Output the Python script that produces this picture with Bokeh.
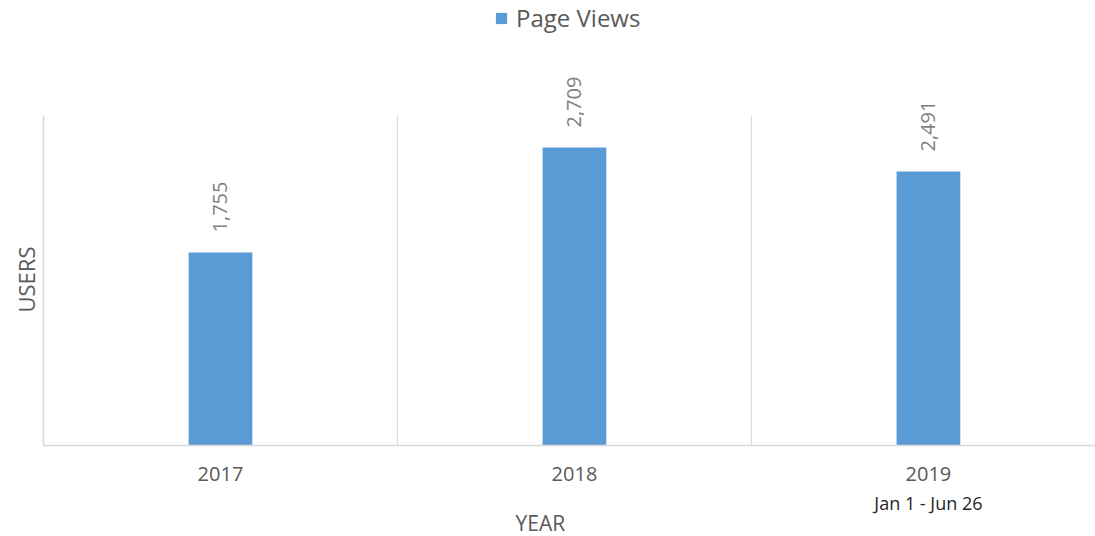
from bokeh.plotting import figure
from bokeh.models import (ColumnDataSource, Range1d, FixedTicker, LabelSet,
                          Legend, LegendItem, LinearAxis, Title)
from bokeh.core.properties import value
from bokeh.embed import file_html
from bokeh.resources import INLINE
from math import pi

years = ["2017", "2018", "2019"]
page_views = [1755, 2709, 2491]
value_labels = [f"{v:,}" for v in page_views]
subtitle_year = "2019"
subtitle_text = "Jan 1 - Jun 26"
series_name = "Page Views"
x_title = "YEAR"
y_title = "USERS"
axis_max = 3000

FONT = "Open Sans"
BLUE = "#5B9BD5"
GRID = "#d9d9d9"
TEXT = "#595959"

W, H = 1095, 536
LEFT, BOTTOM = 43, 91
FRAME_H = H - BOTTOM           # frame runs from top of canvas to the baseline
AXIS_H = 330                   # visible value-axis height in px
y_end = axis_max * FRAME_H / AXIS_H

xs = [i + 0.5 for i in range(len(years))]
src = ColumnDataSource(dict(x=xs, top=page_views, lab=value_labels))

p = figure(width=W, height=H, output_backend="svg", toolbar_location=None,
           x_range=Range1d(0, 2.972), y_range=Range1d(0, y_end),
           min_border_left=LEFT, min_border_right=0, min_border_top=0,
           min_border_bottom=BOTTOM)
p.outline_line_color = None
p.background_fill_color = "white"

# category separators (vertical gridlines) up to the axis max
bounds = list(range(1, len(years)))
p.segment(x0=bounds, y0=[0] * len(bounds), x1=bounds, y1=[axis_max] * len(bounds),
          line_color=GRID, line_width=1.2)

r = p.vbar(x="x", top="top", width=0.18, source=src, fill_color=BLUE, line_color=None)

labels = LabelSet(x="x", y="top", text="lab", source=src, angle=pi / 2,
                  text_align="left", text_baseline="middle", y_offset=20,
                  text_font=value(FONT), text_font_size="20px", text_color="#7f7f7f")
p.add_layout(labels)

# x axis (years)
p.xaxis.ticker = FixedTicker(ticks=xs)
p.xaxis.major_label_overrides = {x: y for x, y in zip(xs, years)}
p.xaxis.major_tick_line_color = None
p.xaxis.minor_tick_line_color = None
p.xaxis.axis_line_color = GRID
p.xaxis.axis_line_width = 1.5
p.xaxis.major_label_standoff = 15
p.xaxis.major_label_text_font = FONT
p.xaxis.major_label_text_font_size = "20px"
p.xaxis.major_label_text_color = TEXT

# second below axis: date subtitle under 2019
sub_x = xs[years.index(subtitle_year)]
ax2 = LinearAxis(ticker=FixedTicker(ticks=[sub_x]),
                 major_label_overrides={sub_x: subtitle_text},
                 axis_line_color=None, major_tick_line_color=None,
                 minor_tick_line_color=None, major_label_standoff=1,
                 major_label_text_font=FONT, major_label_text_font_size="18px",
                 major_label_text_color="#262626")
p.add_layout(ax2, "below")

# x title
p.add_layout(Title(text=x_title, align="left", offset=472, standoff=-21,
                   text_font=FONT, text_font_size="21px", text_font_style="normal",
                   text_color=TEXT), "below")

# y axis
p.yaxis.ticker = FixedTicker(ticks=[])
p.yaxis.bounds = (0, axis_max)
p.yaxis.major_tick_line_color = None
p.yaxis.minor_tick_line_color = None
p.yaxis.axis_line_color = GRID
p.yaxis.axis_line_width = 1.5

p.add_layout(Title(text=y_title, align="left", offset=133, standoff=6,
                   text_font=FONT, text_font_size="22px", text_font_style="normal",
                   text_color=TEXT), "left")

p.xgrid.grid_line_color = None
p.ygrid.grid_line_color = None

legend = Legend(items=[LegendItem(label=series_name, renderers=[r])],
                location=(451, FRAME_H - 34), orientation="horizontal",
                label_text_font=FONT, label_text_font_size="24px",
                label_text_color=TEXT, glyph_width=14, glyph_height=14,
                border_line_color=None, background_fill_alpha=0,
                padding=4, margin=0, label_standoff=8)
p.add_layout(legend, "center")

open("out.html", "w").write(file_html(p, INLINE))
